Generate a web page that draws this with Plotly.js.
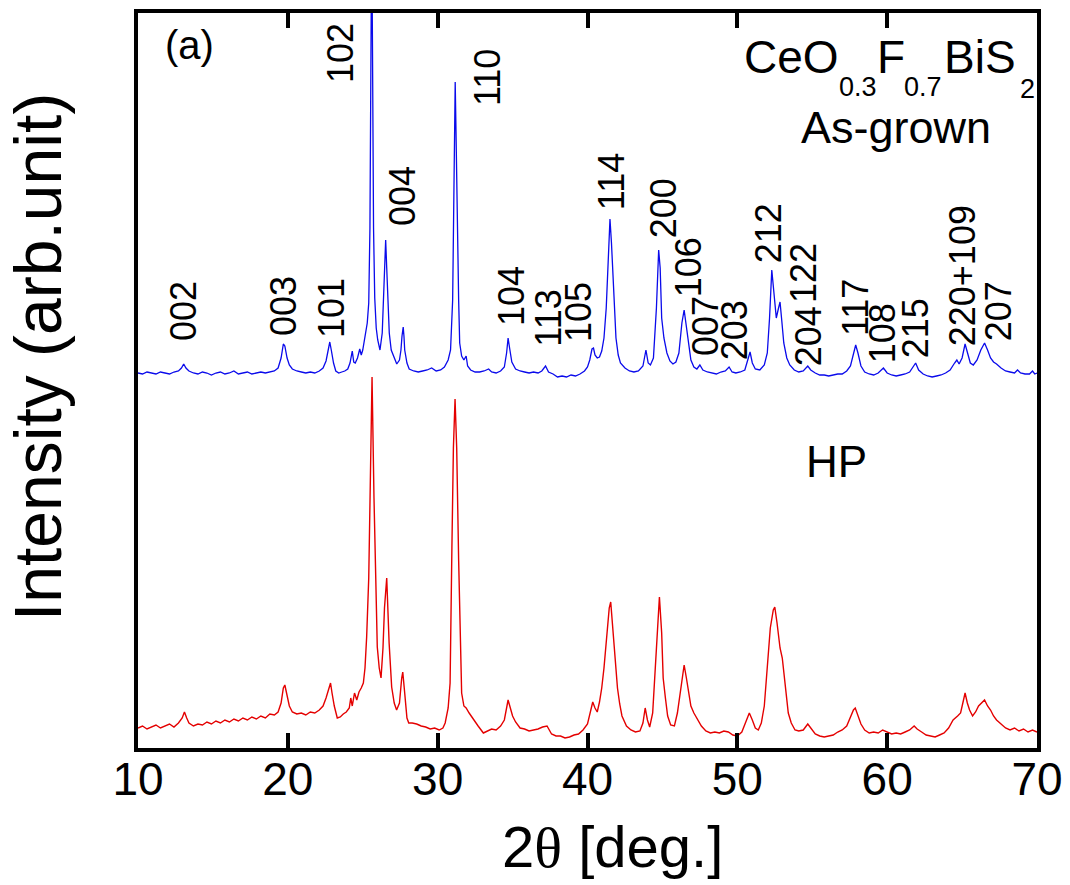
<!DOCTYPE html>
<html><head><meta charset="utf-8">
<script src="https://cdn.plot.ly/plotly-3.0.1.min.js"></script>
<style>html,body{margin:0;padding:0;background:#fff}</style>
</head><body>
<div id="chart" style="width:1070px;height:885px"></div>
<script>
// 2theta (deg) vs intensity (arb. unit, offset scale)
const asGrown = [
[10.0,375],[10.3,374],[10.6,376],[10.9,375],[11.2,374],[11.5,376],[11.8,375],[12.1,374],[12.4,376],[12.7,377],
[12.9,380],[13.05,384],[13.2,380],[13.4,377],[13.7,375],[14.0,374],[14.3,376],[14.6,375],[14.9,373],[15.2,375],
[15.5,376],[15.8,374],[16.1,375],[16.4,377],[16.7,374],[17.0,375],[17.3,376],[17.6,374],[17.9,375],[18.2,376],
[18.5,375],[18.8,376],[19.1,377],[19.35,380],[19.55,390],[19.7,404],[19.8,402],[19.95,390],[20.1,383],[20.3,379],
[20.6,377],[20.9,376],[21.2,375],[21.5,376],[21.8,375],[22.1,377],[22.35,380],[22.55,387],[22.7,400],[22.8,406],
[22.9,398],[23.05,385],[23.2,377],[23.4,375],[23.6,376],[23.8,377],[24.0,379],[24.15,385],[24.3,397],[24.4,386],
[24.5,385],[24.65,390],[24.8,399],[24.9,393],[25.0,398],[25.15,410],[25.3,425],[25.4,445],[25.48,520],[25.55,700],
[25.6,820],[25.65,700],[25.72,520],[25.8,450],[25.9,420],[26.0,408],[26.15,398],[26.3,415],[26.37,448],[26.45,490],
[26.53,508],[26.6,480],[26.7,448],[26.77,415],[26.9,398],[27.05,392],[27.27,384],[27.45,388],[27.55,398],[27.62,412],
[27.7,421],[27.75,412],[27.8,398],[27.95,385],[28.1,379],[28.4,377],[28.7,376],[29.0,377],[29.3,378],[29.6,380],
[29.9,377],[30.2,378],[30.45,381],[30.7,388],[30.86,398],[31.0,448],[31.05,515],[31.12,620],[31.17,666],[31.22,620],
[31.3,515],[31.4,448],[31.47,405],[31.6,392],[31.75,388],[31.9,392],[32.0,382],[32.2,378],[32.5,376],[32.8,376],
[33.1,377],[33.4,379],[33.6,376],[33.9,375],[34.2,377],[34.45,381],[34.6,395],[34.7,410],[34.8,400],[34.95,386],
[35.2,379],[35.5,377],[35.8,376],[36.1,375],[36.4,376],[36.7,375],[36.95,377],[37.2,382],[37.4,376],[37.7,374],
[38.0,371],[38.3,372],[38.6,371],[38.9,373],[39.2,372],[39.5,374],[39.8,377],[40.0,381],[40.15,388],[40.3,399],
[40.4,400],[40.5,393],[40.65,390],[40.8,391],[40.95,397],[41.1,410],[41.25,440],[41.4,500],[41.5,529],[41.6,505],
[41.75,450],[41.9,410],[42.05,393],[42.2,385],[42.5,380],[42.8,377],[43.1,376],[43.4,377],[43.7,382],[43.9,398],
[44.05,385],[44.2,383],[44.4,390],[44.6,440],[44.75,498],[44.85,480],[44.95,430],[45.1,410],[45.3,395],[45.5,387],
[45.7,384],[45.9,386],[46.1,395],[46.3,425],[46.45,438],[46.6,420],[46.75,400],[46.9,388],[47.1,381],[47.3,379],
[47.5,383],[47.7,378],[48.0,376],[48.3,375],[48.6,374],[48.9,376],[49.2,377],[49.45,381],[49.65,376],[49.9,375],
[50.2,376],[50.5,378],[50.7,388],[50.85,396],[51.0,385],[51.2,379],[51.5,378],[51.8,383],[52.0,395],[52.15,430],
[52.3,478],[52.45,455],[52.6,430],[52.75,440],[52.85,446],[52.95,430],[53.1,405],[53.3,390],[53.5,383],[53.8,378],
[54.1,376],[54.4,377],[54.7,382],[54.9,378],[55.2,375],[55.5,373],[55.8,373],[56.1,372],[56.4,373],[56.7,374],
[57.0,374],[57.3,377],[57.55,382],[57.75,395],[57.9,403],[58.05,395],[58.25,382],[58.5,376],[58.8,374],[59.1,373],
[59.4,375],[59.75,380],[60.0,375],[60.3,373],[60.6,372],[60.9,373],[61.2,374],[61.5,376],[61.75,381],[61.9,385],
[62.1,378],[62.4,374],[62.7,372],[63.0,371],[63.3,372],[63.6,373],[63.9,375],[64.2,378],[64.5,385],[64.65,388],
[64.8,384],[65.0,390],[65.2,404],[65.35,395],[65.55,385],[65.75,383],[66.0,388],[66.25,398],[66.5,405],[66.7,398],
[66.9,390],[67.1,386],[67.3,384],[67.6,380],[67.9,377],[68.2,376],[68.5,375],[68.7,378],[68.9,375],[69.2,374],
[69.5,374],[69.7,377],[69.85,374],[70.0,375]
];
const hpSample = [
[10.0,20],[10.3,22],[10.6,19],[10.9,21],[11.2,23],[11.5,20],[11.8,22],[12.1,24],[12.4,21],[12.7,25],
[12.95,30],[13.1,36],[13.25,30],[13.4,25],[13.7,22],[14.0,24],[14.3,23],[14.6,26],[14.9,24],[15.2,27],
[15.5,25],[15.8,28],[16.1,26],[16.4,29],[16.7,27],[17.0,30],[17.3,28],[17.6,31],[17.9,29],[18.2,32],
[18.5,30],[18.8,34],[19.1,33],[19.35,36],[19.55,45],[19.7,60],[19.8,63],[19.95,52],[20.1,42],[20.3,36],
[20.6,34],[20.9,35],[21.2,33],[21.5,36],[21.8,35],[22.1,38],[22.35,42],[22.55,50],[22.75,62],[22.85,65],
[22.95,55],[23.1,42],[23.3,30],[23.5,31],[23.7,34],[23.9,36],[24.1,40],[24.2,50],[24.3,42],[24.45,55],
[24.6,48],[24.75,56],[24.9,60],[25.04,65],[25.15,80],[25.26,111],[25.4,170],[25.49,266],[25.62,371],[25.75,250],
[25.86,160],[25.97,101],[26.1,80],[26.22,70],[26.35,100],[26.45,140],[26.6,170],[26.76,105],[26.93,61],[27.1,45],
[27.26,38],[27.45,45],[27.6,70],[27.67,76],[27.8,55],[27.95,30],[28.07,25],[28.3,25],[28.6,24],[28.9,22],
[29.2,21],[29.5,19],[29.8,20],[30.1,18],[30.35,20],[30.5,25],[30.7,40],[30.83,65],[30.95,200],[31.05,300],
[31.16,349],[31.27,300],[31.4,188],[31.5,100],[31.6,55],[31.75,42],[31.9,40],[32.1,35],[32.4,28],[32.7,22],
[33.05,15],[33.3,17],[33.6,19],[33.9,18],[34.2,22],[34.45,28],[34.6,40],[34.7,48],[34.85,40],[35.0,32],
[35.2,26],[35.5,20],[35.8,19],[36.1,17],[36.4,18],[36.7,19],[37.0,21],[37.3,22],[37.6,14],[37.9,12],
[38.2,12],[38.5,10],[38.8,11],[39.1,13],[39.4,14],[39.7,18],[40.0,24],[40.2,35],[40.35,46],[40.5,40],
[40.65,36],[40.8,46],[40.95,60],[41.1,80],[41.3,115],[41.45,140],[41.55,146],[41.7,120],[41.85,90],[42.0,60],
[42.15,44],[42.3,32],[42.6,22],[42.9,18],[43.2,16],[43.5,17],[43.7,25],[43.85,40],[44.0,28],[44.15,21],
[44.35,35],[44.5,72],[44.65,120],[44.8,151],[44.95,115],[45.05,70],[45.2,50],[45.35,32],[45.55,23],[45.8,22],
[46.0,35],[46.2,58],[46.35,75],[46.45,83],[46.6,70],[46.75,55],[46.9,42],[47.1,35],[47.3,30],[47.6,22],
[47.9,17],[48.2,15],[48.5,16],[48.8,15],[49.1,17],[49.4,16],[49.7,13],[50.0,12],[50.3,16],[50.55,25],
[50.8,35],[51.0,28],[51.2,20],[51.4,18],[51.6,25],[51.8,42],[52.0,80],[52.2,120],[52.4,138],[52.5,141],
[52.65,125],[52.85,100],[53.0,90],[53.2,60],[53.4,35],[53.6,25],[53.85,18],[54.1,17],[54.4,18],[54.7,24],
[54.9,20],[55.2,14],[55.5,12],[55.8,11],[56.1,12],[56.4,13],[56.7,16],[57.0,18],[57.3,22],[57.55,30],
[57.75,38],[57.87,40],[58.05,32],[58.25,24],[58.5,18],[58.8,15],[59.1,16],[59.4,15],[59.7,18],[60.0,16],
[60.3,14],[60.6,15],[60.9,14],[61.2,16],[61.5,18],[61.8,22],[62.0,19],[62.3,16],[62.6,13],[62.9,12],
[63.2,11],[63.5,13],[63.8,15],[64.1,20],[64.4,28],[64.7,32],[64.9,35],[65.05,45],[65.2,55],[65.35,45],
[65.5,38],[65.7,32],[65.9,36],[66.1,42],[66.3,45],[66.5,48],[66.7,42],[66.9,38],[67.1,32],[67.3,28],
[67.6,24],[67.9,20],[68.2,18],[68.5,20],[68.8,17],[69.1,19],[69.4,16],[69.7,18],[70.0,16]
];
const hklLabels = ['002','003','101','102','004','110','104','113','105','114','200','106','007','203','212','122','204','117','108','215','220+109','207'];
const xTicks = [10, 20, 30, 40, 50, 60, 70];

// label placement (x in deg, y in intensity units)
const hklPlace = [[13.00,437],[19.68,442],[22.88,440],[23.48,695],[27.62,552],[33.30,670],[34.90,452],[37.34,430],[39.37,436],
[41.58,566],[45.05,540],[46.72,481],[47.85,422],[49.79,418],[52.06,515],[54.39,475],[54.73,412],[57.86,440],[59.67,415],
[61.87,420],[65.01,472],[67.41,437]];

const FONT = 'Liberation Sans, Arial, Helvetica, sans-serif';

const traces = [
  {x: asGrown.map(p=>p[0]), y: asGrown.map(p=>p[1]), type:'scatter', mode:'lines', name:'As-grown',
   line:{color:'rgb(10,10,235)', width:1.3}},
  {x: hpSample.map(p=>p[0]), y: hpSample.map(p=>p[1]), type:'scatter', mode:'lines', name:'HP',
   line:{color:'rgb(228,0,0)', width:1.4}}
];

const ann = hklLabels.map((t,i)=>({x:hklPlace[i][0], y:hklPlace[i][1], xref:'x', yref:'y', text:t, textangle:-90,
  showarrow:false, xanchor:'center', yanchor:'middle', font:{family:FONT, size:36, color:'#000'}}));

function txt(t, x, y, size){
  return {x:x, y:y, xref:'x', yref:'y', text:t, showarrow:false, xanchor:'center', yanchor:'middle',
    font:{family:FONT, size:size, color:'#000'}};
}
ann.push(txt('(a)', 13.47, 703, 40));
ann.push(txt('CeO', 53.59, 691, 46));
ann.push(txt('0.3', 58.06, 661, 27));
ann.push(txt('F', 60.27, 691, 46));
ann.push(txt('0.7', 62.40, 661, 27));
ann.push(txt('BiS', 66.21, 691, 46));
ann.push(txt('2', 69.35, 659, 27));
ann.push(txt('As-grown', 60.60, 621, 45));
ann.push(txt('HP', 56.60, 287, 44));

// axis titles
ann.push({xref:'paper', yref:'paper', x:0.5273, y:-0.1347, xanchor:'center', yanchor:'middle', showarrow:false,
  text:'2<span style="font-family:Liberation Serif">θ</span> [deg.]', font:{family:FONT, size:58, color:'#000'}});
ann.push({xref:'paper', yref:'paper', x:-0.1112, y:0.532, xanchor:'center', yanchor:'middle', showarrow:false, textangle:-90,
  text:'Intensity (arb.unit)', font:{family:FONT, size:66, color:'#000'}});

const layout = {
  width:1070, height:885,
  margin:{l:138, r:33, t:13, b:137},
  paper_bgcolor:'#fff', plot_bgcolor:'#fff',
  showlegend:false,
  font:{family:FONT, color:'#000'},
  xaxis:{range:[10,70], tickvals:xTicks, ticktext:xTicks.map(String), ticks:'inside', ticklen:15, tickwidth:4, tickcolor:'#000',
    showline:true, linewidth:4, linecolor:'#000', mirror:'ticks', showgrid:false, zeroline:false,
    ticklabelstandoff:-12,
    tickfont:{family:FONT, size:46, color:'#000'}},
  yaxis:{range:[0,735], showticklabels:false, ticks:'', showline:true, linewidth:4, linecolor:'#000', mirror:true,
    showgrid:false, zeroline:false},
  annotations: ann
};
Plotly.newPlot('chart', traces, layout, {displayModeBar:false, staticPlot:true});
</script>
</body></html>
